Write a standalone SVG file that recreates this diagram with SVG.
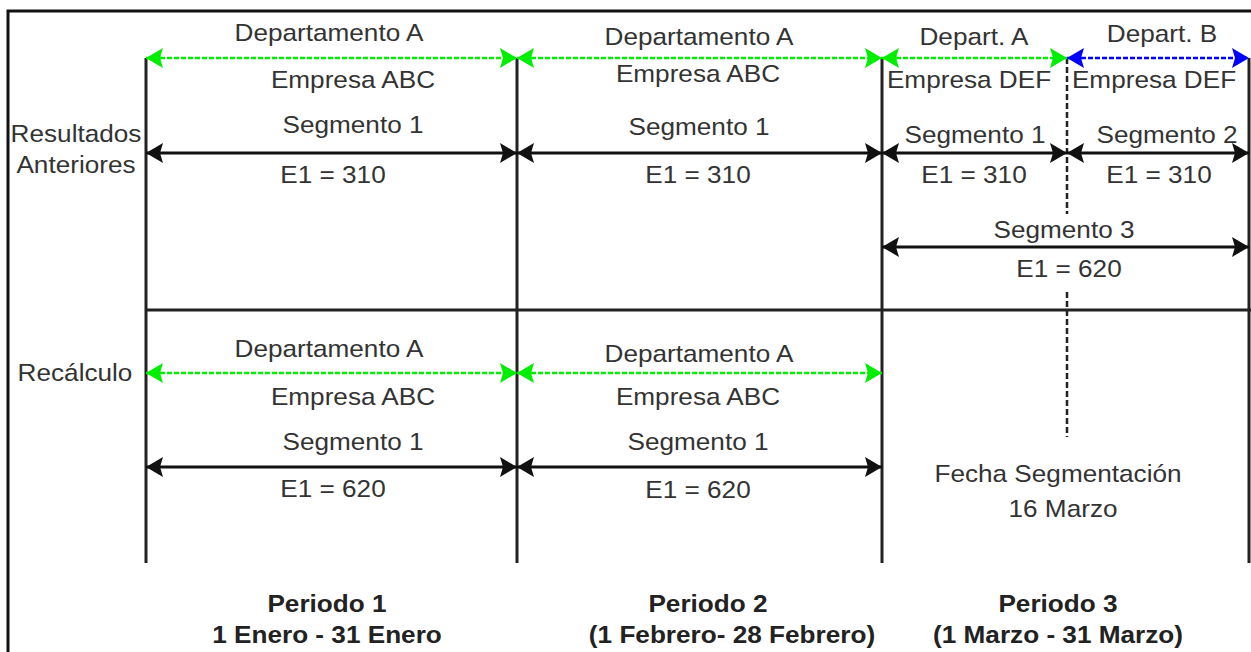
<svg xmlns="http://www.w3.org/2000/svg" width="1251" height="652" viewBox="0 0 1251 652">
<style>
.t{font-family:"Liberation Sans",Arial,sans-serif;font-size:24px;fill:#333;text-anchor:middle}
.b{font-family:"Liberation Sans",Arial,sans-serif;font-size:24px;font-weight:bold;fill:#222;text-anchor:middle}
.frame{fill:none;stroke:#111;stroke-width:3}
.v{stroke:#222;stroke-width:3;fill:none}
.dv{stroke:#222;stroke-width:2.5;stroke-dasharray:6,3;fill:none}
.ab{stroke:#111;stroke-width:3;fill:none;marker-start:url(#hb);marker-end:url(#hb)}
.ag{stroke:#00ee00;stroke-width:2.5;stroke-dasharray:5,2;fill:none;marker-start:url(#hg);marker-end:url(#hg)}
.au{stroke:#0000ff;stroke-width:2.5;stroke-dasharray:5,2;fill:none;marker-start:url(#hu);marker-end:url(#hu)}
</style>
<defs>
<marker id="hb" viewBox="0 0 17 20" refX="17" refY="10" markerWidth="17" markerHeight="20" markerUnits="userSpaceOnUse" orient="auto-start-reverse"><path d="M0,0 L17,10 L0,20 L3,10 Z" fill="#111"/></marker>
<marker id="hg" viewBox="0 0 17 20" refX="17" refY="10" markerWidth="17" markerHeight="20" markerUnits="userSpaceOnUse" orient="auto-start-reverse"><path d="M0,0 L17,10 L0,20 L3,10 Z" fill="#00ee00"/></marker>
<marker id="hu" viewBox="0 0 17 20" refX="17" refY="10" markerWidth="17" markerHeight="20" markerUnits="userSpaceOnUse" orient="auto-start-reverse"><path d="M0,0 L17,10 L0,20 L3,10 Z" fill="#0000ff"/></marker>
</defs>
<rect width="1251" height="652" fill="#fff"/>
<path class="frame" d="M8,652 V11 H1251"/>

<g id="grid">
<line class="v" x1="146" y1="58" x2="146" y2="563"/>
<line class="v" x1="517" y1="58" x2="517" y2="563"/>
<line class="v" x1="882" y1="58" x2="882" y2="563"/>
<line class="v" x1="1249" y1="58" x2="1249" y2="563"/>
<line class="v" x1="146" y1="310" x2="1251" y2="310"/>
<line class="dv" x1="1067" y1="58" x2="1067" y2="214"/>
<line class="dv" x1="1067" y1="292" x2="1067" y2="437"/>
</g>

<g id="connectors">
<line class="ag" x1="146" y1="58" x2="517" y2="58"/>
<line class="ag" x1="517" y1="58" x2="882" y2="58"/>
<line class="ag" x1="882" y1="58" x2="1067" y2="58"/>
<line class="au" x1="1067" y1="58" x2="1249" y2="58"/>
<line class="ab" x1="146" y1="153" x2="517" y2="153"/>
<line class="ab" x1="517" y1="153" x2="882" y2="153"/>
<line class="ab" x1="882" y1="153" x2="1067" y2="153"/>
<line class="ab" x1="1067" y1="153" x2="1249" y2="153"/>
<line class="ab" x1="882" y1="247" x2="1249" y2="247"/>
<line class="ag" x1="146" y1="373" x2="517" y2="373"/>
<line class="ag" x1="517" y1="373" x2="882" y2="373"/>
<line class="ab" x1="146" y1="467" x2="517" y2="467"/>
<line class="ab" x1="517" y1="467" x2="882" y2="467"/>
</g>

<g id="row-labels">
<text class="t" transform="translate(76,142) scale(1.09,1)">Resultados</text>
<text class="t" transform="translate(76,173) scale(1.09,1)">Anteriores</text>
<text class="t" transform="translate(75,381) scale(1.09,1)">Recálculo</text>
</g>

<g id="p1-prev">
<text class="t" transform="translate(329,41) scale(1.09,1)">Departamento A</text>
<text class="t" transform="translate(353,88) scale(1.09,1)">Empresa ABC</text>
<text class="t" transform="translate(353,133) scale(1.09,1)">Segmento 1</text>
<text class="t" transform="translate(333,183) scale(1.09,1)">E1 = 310</text>
</g>

<g id="p2-prev">
<text class="t" transform="translate(699,45) scale(1.09,1)">Departamento A</text>
<text class="t" transform="translate(698,82) scale(1.09,1)">Empresa ABC</text>
<text class="t" transform="translate(699,135) scale(1.09,1)">Segmento 1</text>
<text class="t" transform="translate(698,183) scale(1.09,1)">E1 = 310</text>
</g>

<g id="p3-prev">
<text class="t" transform="translate(974,45) scale(1.09,1)">Depart. A</text>
<text class="t" transform="translate(1162,42) scale(1.09,1)">Depart. B</text>
<text class="t" transform="translate(969,88) scale(1.09,1)">Empresa DEF</text>
<text class="t" transform="translate(1154,88) scale(1.09,1)">Empresa DEF</text>
<text class="t" transform="translate(975,143) scale(1.09,1)">Segmento 1</text>
<text class="t" transform="translate(1167,143) scale(1.09,1)">Segmento 2</text>
<text class="t" transform="translate(974,183) scale(1.09,1)">E1 = 310</text>
<text class="t" transform="translate(1159,183) scale(1.09,1)">E1 = 310</text>
<text class="t" transform="translate(1064,238) scale(1.09,1)">Segmento 3</text>
<text class="t" transform="translate(1069,277) scale(1.09,1)">E1 = 620</text>
</g>

<g id="p1-recalc">
<text class="t" transform="translate(329,357) scale(1.09,1)">Departamento A</text>
<text class="t" transform="translate(353,405) scale(1.09,1)">Empresa ABC</text>
<text class="t" transform="translate(353,450) scale(1.09,1)">Segmento 1</text>
<text class="t" transform="translate(333,497) scale(1.09,1)">E1 = 620</text>
</g>

<g id="p2-recalc">
<text class="t" transform="translate(699,362) scale(1.09,1)">Departamento A</text>
<text class="t" transform="translate(698,405) scale(1.09,1)">Empresa ABC</text>
<text class="t" transform="translate(698,450) scale(1.09,1)">Segmento 1</text>
<text class="t" transform="translate(698,498) scale(1.09,1)">E1 = 620</text>
</g>

<g id="fecha">
<text class="t" transform="translate(1058,482) scale(1.09,1)">Fecha Segmentación</text>
<text class="t" transform="translate(1063,517) scale(1.09,1)">16 Marzo</text>
</g>

<g id="periodo1">
<text class="b" transform="translate(327,612) scale(1.09,1)">Periodo 1</text>
<text class="b" transform="translate(327,643) scale(1.09,1)">1 Enero - 31 Enero</text>
</g>
<g id="periodo2">
<text class="b" transform="translate(708,612) scale(1.09,1)">Periodo 2</text>
<text class="b" transform="translate(732,643) scale(1.09,1)">(1 Febrero- 28 Febrero)</text>
</g>
<g id="periodo3">
<text class="b" transform="translate(1058,612) scale(1.09,1)">Periodo 3</text>
<text class="b" transform="translate(1058,643) scale(1.09,1)">(1 Marzo - 31 Marzo)</text>
</g>
</svg>
